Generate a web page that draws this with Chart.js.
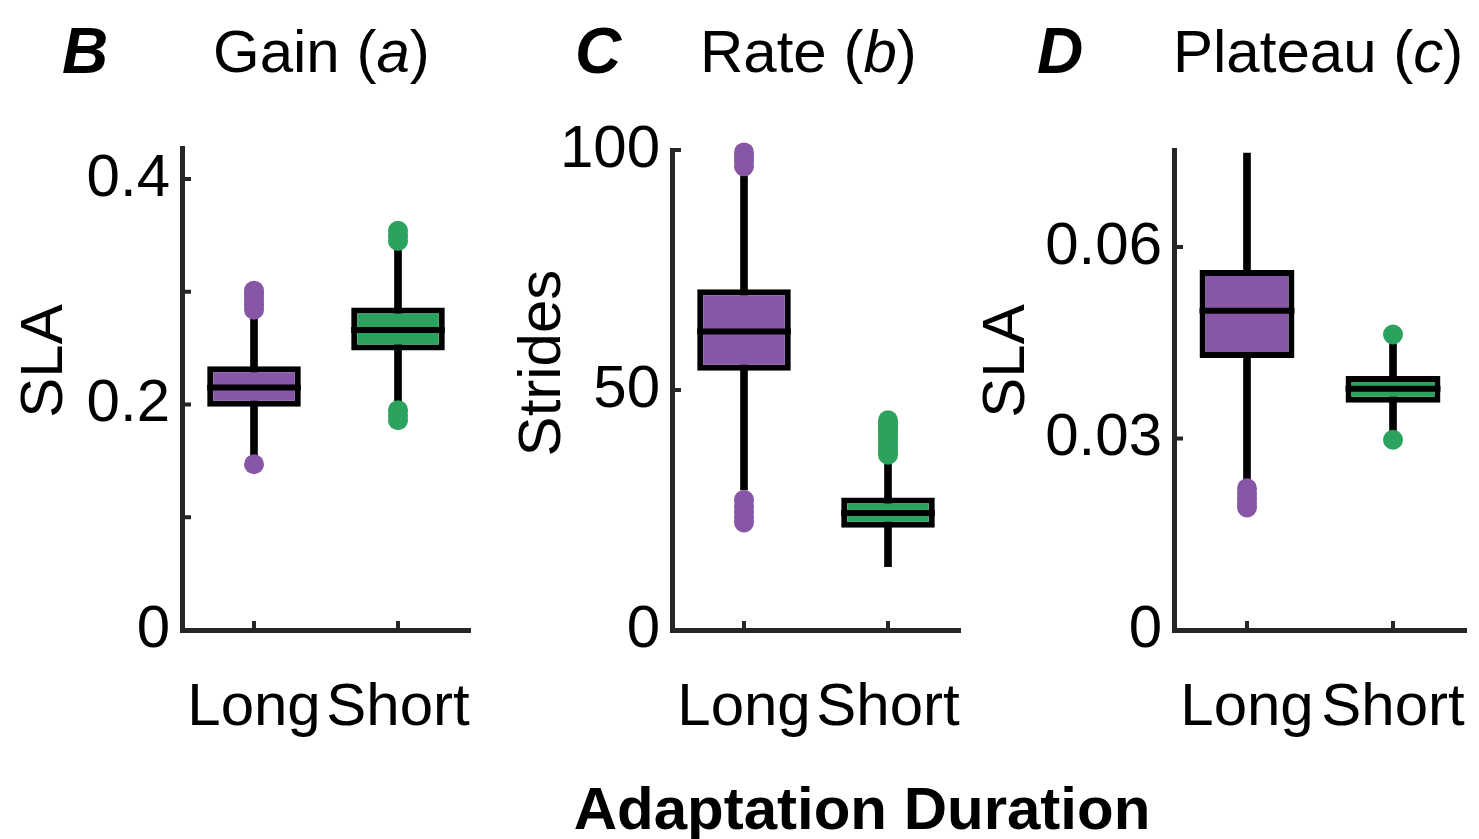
<!DOCTYPE html>
<html>
<head>
<meta charset="utf-8">
<script src="https://cdn.jsdelivr.net/npm/chart.js@4.4.0/dist/chart.umd.min.js"></script>
<style>
  body { margin: 0; background: #fff; width: 1479px; height: 839px; position: relative; overflow: hidden;
         font-family: "Liberation Sans", Arial, sans-serif; color: #000; }
  canvas { position: absolute; }
  .t { position: absolute; font-size: 60px; line-height: 60px; white-space: nowrap; }
  .lt { font-weight: bold; font-style: italic; font-size: 64px; }
  .yt { position: absolute; width: 300px; height: 60px; font-size: 60px; line-height: 60px;
        text-align: center; white-space: nowrap; transform: rotate(-90deg); transform-origin: center; }
</style>
</head>
<body>
<div class="t lt" style="left:62px;top:21px">B</div>
<div class="t" style="left:213px;top:22px">Gain (<i>a</i>)</div>
<div class="t lt" style="left:575px;top:21px">C</div>
<div class="t" style="left:700px;top:22px">Rate (<i>b</i>)</div>
<div class="t lt" style="left:1037px;top:21px">D</div>
<div class="t" style="left:1173px;top:22px">Plateau (<i>c</i>)</div>

<div class="yt" style="left:-108px;top:331px">SLA</div>
<div class="yt" style="left:390px;top:333px">Strides</div>
<div class="yt" style="left:854px;top:331px">SLA</div>

<div class="t" style="left:462px;width:800px;top:779px;text-align:center;font-weight:bold">Adaptation Duration</div>

<canvas id="gain" width="480" height="660" style="left:0px;top:100px"></canvas>
<canvas id="rate" width="480" height="660" style="left:490px;top:100px"></canvas>
<canvas id="plateau" width="487" height="660" style="left:992px;top:100px"></canvas>

<script>
// categories
var categories = ["Long", "Short"];
var boxColors = ["#8856a7", "#2ca25f"];

// Gain (a) - SLA
var gainLo  = [0.155, 0.198];
var gainQ1  = [0.198, 0.248];
var gainMed = [0.215, 0.266];
var gainQ3  = [0.234, 0.286];
var gainHi  = [0.280, 0.342];
var gainOutLong  = [0.147, 0.284, 0.288, 0.291, 0.295, 0.298, 0.301];
var gainOutShort = [0.186, 0.190, 0.195, 0.345, 0.349, 0.354];

// Rate (b) - Strides
var rateLo  = [29.2, 13.2];
var rateQ1  = [54.0, 21.3];
var rateMed = [62.2, 24.4];
var rateQ3  = [71.0, 27.6];
var rateHi  = [95.5, 35.2];
var rateOutLong  = [22.4, 23.5, 24.6, 25.8, 27.1, 96.6, 97.6, 98.6, 99.5];
var rateOutShort = [36.5, 37.3, 38.1, 38.9, 39.8, 40.6, 41.3, 42.1, 42.9, 43.7];

// Plateau (c) - SLA
var platLo  = [0.0237, 0.0310];
var platQ1  = [0.0426, 0.0356];
var platMed = [0.0500, 0.0378];
var platQ3  = [0.0564, 0.0398];
var platHi  = [0.0747, 0.0450];
var platOutLong  = [0.0192, 0.0199, 0.0206, 0.0214, 0.0222];
var platOutShort = [0.0298, 0.0463];

var FONT = "'Liberation Sans', Arial, sans-serif";
var AXIS = "#262626";

// small inward tick marks like the original figure
var tickMarks = {
  id: "tickMarks",
  afterDraw: function (chart) {
    var ctx = chart.ctx, a = chart.chartArea, x = chart.scales.x, y = chart.scales.y;
    ctx.save();
    ctx.strokeStyle = AXIS;
    ctx.lineWidth = 4;
    y.ticks.forEach(function (t) {
      var py = y.getPixelForValue(t.value);
      ctx.beginPath(); ctx.moveTo(a.left, py); ctx.lineTo(a.left + 9, py); ctx.stroke();
    });
    x.ticks.forEach(function (t, i) {
      var px = x.getPixelForTick(i);
      ctx.beginPath(); ctx.moveTo(px, a.bottom); ctx.lineTo(px, a.bottom - 9); ctx.stroke();
    });
    ctx.restore();
  }
};

// median line across each box
var medianLines = {
  id: "medianLines",
  afterDatasetsDraw: function (chart, args, opts) {
    var ctx = chart.ctx, y = chart.scales.y;
    var meta = chart.getDatasetMeta(1);
    ctx.save();
    ctx.strokeStyle = "#000";
    ctx.lineWidth = 6;
    meta.data.forEach(function (bar, i) {
      var py = y.getPixelForValue(opts.values[i]);
      ctx.beginPath();
      ctx.moveTo(bar.x - bar.width / 2, py);
      ctx.lineTo(bar.x + bar.width / 2, py);
      ctx.stroke();
    });
    ctx.restore();
  }
};

function points(vals, cat) {
  return vals.map(function (v) { return { x: cat, y: v }; });
}

function boxChart(id, s) {
  return new Chart(document.getElementById(id), {
    type: "bar",
    data: {
      labels: categories,
      datasets: [
        {
          data: categories.map(function (c, i) { return [s.lo[i], s.hi[i]]; }),
          backgroundColor: "#000",
          barThickness: 7,
          grouped: false,
          order: 3
        },
        {
          data: categories.map(function (c, i) { return [s.q1[i], s.q3[i]]; }),
          backgroundColor: boxColors,
          borderColor: "#000",
          borderWidth: 6,
          borderSkipped: false,
          barPercentage: 0.65,
          categoryPercentage: 1,
          grouped: false,
          order: 2
        },
        {
          type: "line",
          data: points(s.outLong, "Long"),
          showLine: false,
          pointRadius: 10,
          pointBorderWidth: 0,
          pointBackgroundColor: boxColors[0],
          clip: false,
          order: 1
        },
        {
          type: "line",
          data: points(s.outShort, "Short"),
          showLine: false,
          pointRadius: 10,
          pointBorderWidth: 0,
          pointBackgroundColor: boxColors[1],
          clip: false,
          order: 1
        }
      ]
    },
    options: {
      responsive: false,
      animation: false,
      devicePixelRatio: 1,
      layout: { padding: { top: s.padTop, right: s.padRight, left: 0, bottom: 0 } },
      plugins: {
        legend: { display: false },
        tooltip: { enabled: false },
        medianLines: { values: s.med }
      },
      scales: {
        x: {
          afterFit: function (sc) { sc.height = 130; sc.paddingLeft = 0; sc.paddingRight = 0; },
          border: { color: AXIS, width: 5 },
          grid: { drawOnChartArea: false, drawTicks: false },
          ticks: { padding: 42, color: "#000", maxRotation: 0, autoSkip: false,
                   font: { size: 60, family: FONT } }
        },
        y: {
          min: 0,
          max: s.max,
          afterFit: function (sc) { sc.width = 182; sc.paddingTop = 0; sc.paddingBottom = 0; },
          border: { color: AXIS, width: 5 },
          grid: { drawOnChartArea: false, drawTicks: false },
          ticks: { stepSize: s.step, includeBounds: false, padding: 12, color: "#000",
                   font: { size: 60, family: FONT }, callback: s.fmt }
        }
      }
    },
    plugins: [tickMarks, medianLines]
  });
}

boxChart("gain", {
  lo: gainLo, q1: gainQ1, med: gainMed, q3: gainQ3, hi: gainHi,
  outLong: gainOutLong, outShort: gainOutShort,
  max: 0.4275, step: 0.1, padTop: 48, padRight: 8,
  fmt: function (v) { var r = Math.round(v * 10); return r % 2 ? "" : (r === 0 ? "0" : String(r / 10)); }
});

boxChart("rate", {
  lo: rateLo, q1: rateQ1, med: rateMed, q3: rateQ3, hi: rateHi,
  outLong: rateOutLong, outShort: rateOutShort,
  max: 100, step: 50, padTop: 50, padRight: 8,
  fmt: function (v) { return String(v); }
});

boxChart("plateau", {
  lo: platLo, q1: platQ1, med: platMed, q3: platQ3, hi: platHi,
  outLong: platOutLong, outShort: platOutShort,
  max: 0.0752, step: 0.03, padTop: 50, padRight: 13,
  fmt: function (v) { var r = Math.round(v * 100); return r === 0 ? "0" : (r / 100).toFixed(2); }
});
</script>
</body>
</html>
